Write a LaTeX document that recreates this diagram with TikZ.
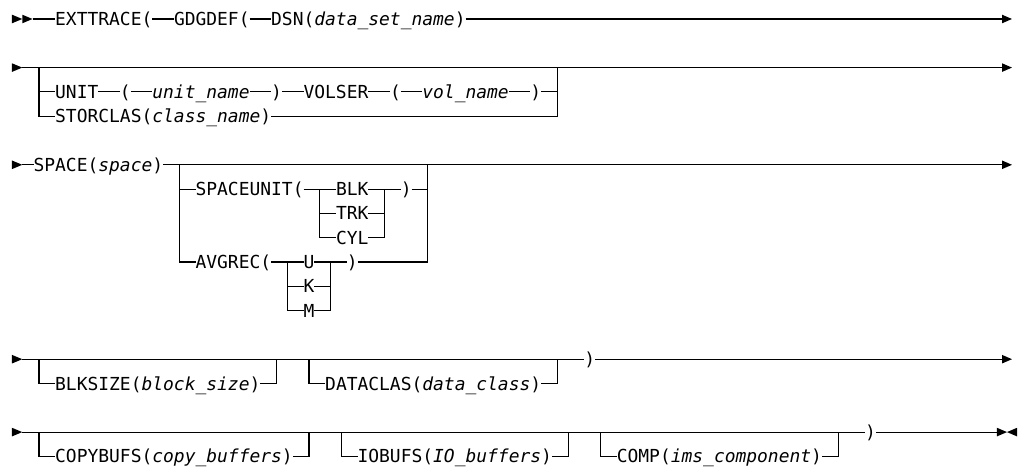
\documentclass[tikz,border=0pt]{standalone}
\usepackage{fontspec}
\setmainfont{DejaVu Sans Mono}[ItalicFont={DejaVu Sans Mono Oblique}]
\newcommand\railtri[3]{\fill (#1,#3-0.177) -- (#2,#3) -- (#1,#3+0.177) -- cycle;}
\begin{document}
\begin{tikzpicture}[x=8.1pt,y=-18.225pt,line width=0.8pt,line join=miter,
  t/.style={inner sep=0pt,outer sep=0pt,anchor=west,text height=9.81pt,text depth=0pt,
            font=\fontsize{13.454}{16}\selectfont},
  ln/.style={draw=black}]
\useasboundingbox (-1.1111,-0.7819) rectangle (93.241,18.519);
% ---------------- row 1
\railtri{0}{0.95}{0}\railtri{0.95}{1.9}{0}
\coordinate (s0) at (1.9,0); \coordinate (e0) at (91.67,0);
\node[t] (ext) at (4,0) {EXTTRACE(};
\node[t] (gdg) at (15,0) {GDGDEF(};
\node[t] (dsn) at (24,0) {DSN(\textit{data\_set\_name})};
\draw[ln] (s0) -- (ext.west);
\draw[ln] (ext.east) -- (gdg.west);
\draw[ln] (gdg.east) -- (dsn.west);
\draw[ln] (dsn.east) -- (e0);
\railtri{91.67}{92.59}{0}
% ---------------- row 2
\railtri{0}{0.95}{2}
\coordinate (s2) at (0.95,2); \coordinate (e2) at (91.67,2);
\coordinate (j2l) at (2.5,2); \coordinate (j2r) at (50.5,2);
\node[t] (unit) at (4,3) {UNIT};
\node[t] (lp1) at (10,3) {(};
\node[t] (un) at (13,3) {\textit{unit\_name}};
\node[t] (rp1) at (24,3) {)};
\node[t] (vol) at (27,3) {VOLSER};
\node[t] (lp2) at (35,3) {(};
\node[t] (vn) at (38,3) {\textit{vol\_name}};
\node[t] (rp2) at (48,3) {)};
\node[t] (stor) at (4,4) {STORCLAS(\textit{class\_name})};
\draw[ln] (s2) -- (e2);
\draw[ln] (j2l) |- (stor.west);
\draw[ln] (j2l |- unit.west) -- (unit.west);
\draw[ln] (unit.east) -- (lp1.west);
\draw[ln] (lp1.east) -- (un.west);
\draw[ln] (un.east) -- (rp1.west);
\draw[ln] (rp1.east) -- (vol.west);
\draw[ln] (vol.east) -- (lp2.west);
\draw[ln] (lp2.east) -- (vn.west);
\draw[ln] (vn.east) -- (rp2.west);
\draw[ln] (rp2.east) -- (j2r |- rp2.east);
\draw[ln] (stor.east) -| (j2r);
\railtri{91.67}{92.59}{2}
% ---------------- row 3
\railtri{0}{0.95}{6}
\coordinate (s6) at (0.95,6); \coordinate (e6) at (91.67,6);
\coordinate (j6l) at (15.5,6); \coordinate (j6r) at (38.5,6);
\coordinate (ja) at (28.5,7); \coordinate (jb) at (34.5,7);
\coordinate (jc) at (25.5,10); \coordinate (jd) at (29.5,10);
\node[t] (space) at (2,6) {SPACE(\textit{space})};
\node[t] (spu) at (17,7) {SPACEUNIT(};
\node[t] (blk) at (30,7) {BLK};
\node[t] (trk) at (30,8) {TRK};
\node[t] (cyl) at (30,9) {CYL};
\node[t] (rp3) at (36,7) {)};
\node[t] (avg) at (17,10) {AVGREC(};
\node[t] (u) at (27,10) {U};
\node[t] (k) at (27,11) {K};
\node[t] (m) at (27,12) {M};
\node[t] (rp4) at (31,10) {)};
\draw[ln] (s6) -- (space.west);
\draw[ln] (space.east) -- (e6);
\draw[ln] (j6l) |- (avg.west);
\draw[ln] (j6l |- spu.west) -- (spu.west);
\draw[ln] (spu.east) -- (blk.west);
\draw[ln] (blk.east) -- (rp3.west);
\draw[ln] (ja) |- (cyl.west);
\draw[ln] (ja |- trk.west) -- (trk.west);
\draw[ln] (cyl.east) -| (jb);
\draw[ln] (trk.east) -- (jb |- trk.east);
\draw[ln] (rp3.east) -- (j6r |- rp3.east);
\draw[ln] (avg.east) -- (u.west);
\draw[ln] (u.east) -- (rp4.west);
\draw[ln] (jc) |- (m.west);
\draw[ln] (jc |- k.west) -- (k.west);
\draw[ln] (m.east) -| (jd);
\draw[ln] (k.east) -- (jd |- k.east);
\draw[ln] (rp4.east) -| (j6r);
\railtri{91.67}{92.59}{6}
% ---------------- row 4
\railtri{0}{0.95}{14}
\coordinate (s14) at (0.95,14); \coordinate (e14) at (91.67,14);
\coordinate (j14a) at (2.5,14); \coordinate (j14b) at (24.5,14);
\coordinate (j14c) at (27.5,14); \coordinate (j14d) at (50.5,14);
\node[t] (blks) at (4,15) {BLKSIZE(\textit{block\_size})};
\node[t] (datac) at (29,15) {DATACLAS(\textit{data\_class})};
\node[t] (rp5) at (53,14) {)};
\draw[ln] (s14) -- (rp5.west);
\draw[ln] (rp5.east) -- (e14);
\draw[ln] (j14a) |- (blks.west);
\draw[ln] (blks.east) -| (j14b);
\draw[ln] (j14c) |- (datac.west);
\draw[ln] (datac.east) -| (j14d);
\railtri{91.67}{92.59}{14}
% ---------------- row 5
\railtri{0}{0.95}{17}
\coordinate (s17) at (0.95,17); \coordinate (e17) at (91.2,17);
\coordinate (j17a) at (2.5,17); \coordinate (j17b) at (27.5,17);
\coordinate (j17c) at (30.5,17); \coordinate (j17d) at (51.5,17);
\coordinate (j17e) at (54.5,17); \coordinate (j17f) at (76.5,17);
\node[t] (copy) at (4,18) {COPYBUFS(\textit{copy\_buffers})};
\node[t] (iob) at (32,18) {IOBUFS(\textit{IO\_buffers})};
\node[t] (comp) at (56,18) {COMP(\textit{ims\_component})};
\node[t] (rp6) at (79,17) {)};
\draw[ln] (s17) -- (rp6.west);
\draw[ln] (rp6.east) -- (e17);
\draw[ln] (j17a) |- (copy.west);
\draw[ln] (copy.east) -| (j17b);
\draw[ln] (j17c) |- (iob.west);
\draw[ln] (iob.east) -| (j17d);
\draw[ln] (j17e) |- (comp.west);
\draw[ln] (comp.east) -| (j17f);
\railtri{91.2}{92.13}{17}\railtri{93.06}{92.13}{17}
\end{tikzpicture}
\end{document}
